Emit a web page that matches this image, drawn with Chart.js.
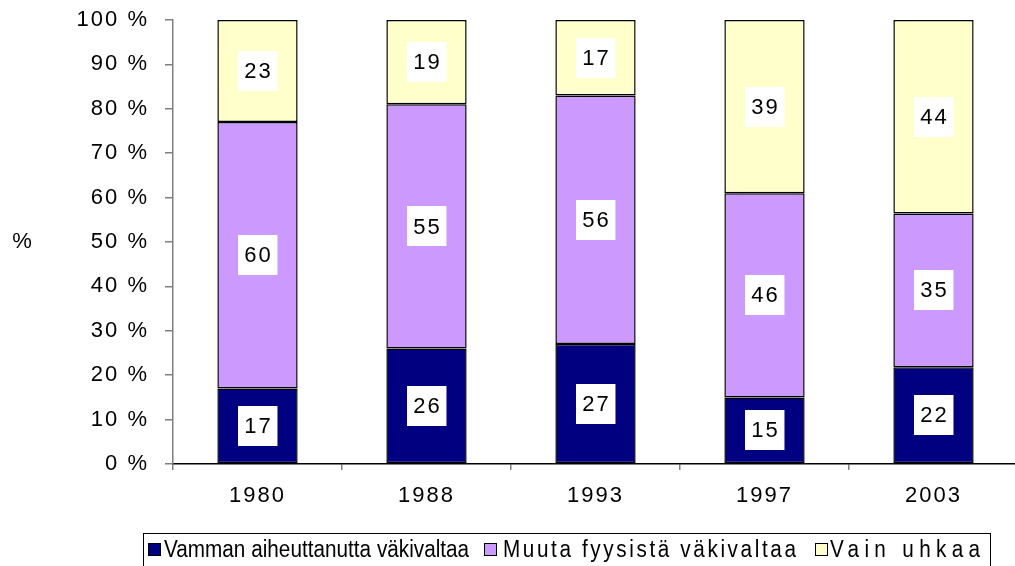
<!DOCTYPE html>
<html>
<head>
<meta charset="utf-8">
<script src="https://cdn.jsdelivr.net/npm/chart.js@4.4.1/dist/chart.umd.min.js"></script>
<style>
  html, body { margin: 0; padding: 0; background: #fff; overflow: hidden; }
  #wrap { position: relative; width: 1020px; height: 566px; }
  #legend {
    position: absolute; left: 143px; top: 533px; width: 848px; height: 40px;
    border: 1.5px solid #000; box-sizing: border-box;
  }
  #legend .box {
    position: absolute; top: 9px; width: 11px; height: 11px; border: 1.5px solid #000;
  }
  #legend .txt {
    position: absolute; top: 2px; white-space: nowrap; color: #000;
    font-family: "Liberation Sans", Arial, sans-serif; font-size: 23px;
    transform: scaleX(0.9); transform-origin: 0 0;
  }
</style>
</head>
<body>
<div id="wrap">
  <canvas id="c" width="1020" height="566"></canvas>
  <div id="legend"></div>
</div>
<script>
const years = ['1980', '1988', '1993', '1997', '2003'];
const vamman = [17, 26, 27, 15, 22];
const muuta = [60, 55, 56, 46, 35];
const uhkaa = [23, 19, 17, 39, 44];
const seriesNames = ['Vamman aiheuttanutta väkivaltaa', 'Muuta fyysistä väkivaltaa', 'Vain uhkaa'];
const colors = ['#000080', '#CC99FF', '#FFFFCC'];
const yTicks = [0, 10, 20, 30, 40, 50, 60, 70, 80, 90, 100];

const FONT = "'Liberation Sans', Arial, sans-serif";
const SP = 2; // letter spacing
const raw = [vamman, muuta, uhkaa];
const totals = years.map((y, i) => vamman[i] + muuta[i] + uhkaa[i]);
const pct = arr => arr.map((v, i) => v / totals[i] * 100);

// spaced-out lettering like the original
const spacing = {
  id: 'spacing',
  beforeUpdate(chart) { chart.ctx.letterSpacing = SP + 'px'; },
  beforeLayout(chart) { chart.ctx.letterSpacing = SP + 'px'; },
  beforeDraw(chart) { chart.ctx.letterSpacing = SP + 'px'; }
};

// white boxes with values
const valueLabels = {
  id: 'valueLabels',
  afterDatasetsDraw(chart) {
    const ctx = chart.ctx;
    ctx.save();
    ctx.font = '22px ' + FONT;
    ctx.letterSpacing = SP + 'px';
    ctx.textAlign = 'center';
    ctx.textBaseline = 'middle';
    chart.data.datasets.forEach((ds, di) => {
      chart.getDatasetMeta(di).data.forEach((bar, i) => {
        const txt = String(raw[di][i]);
        const cy = (bar.y + bar.base) / 2;
        const tw = ctx.measureText(txt).width - SP;
        const w = tw + 13, h = 40;
        ctx.fillStyle = '#fff';
        ctx.fillRect(Math.round(bar.x - w / 2), Math.round(cy - h / 2), w, h);
        ctx.fillStyle = '#000';
        ctx.fillText(txt, bar.x + SP / 2, cy + 1);
      });
    });
    ctx.restore();
  }
};

// "%" on the left
const yTitle = {
  id: 'yTitle',
  afterDraw(chart) {
    const ctx = chart.ctx;
    const a = chart.chartArea;
    ctx.save();
    ctx.font = '22px ' + FONT;
    ctx.textAlign = 'center';
    ctx.textBaseline = 'middle';
    ctx.fillStyle = '#000';
    ctx.fillText('%', 23, (a.top + a.bottom) / 2);
    ctx.restore();
  }
};

new Chart(document.getElementById('c'), {
  type: 'bar',
  data: {
    labels: years,
    datasets: [
      { label: seriesNames[0], data: pct(vamman), backgroundColor: colors[0] },
      { label: seriesNames[1], data: pct(muuta), backgroundColor: colors[1] },
      { label: seriesNames[2], data: pct(uhkaa), backgroundColor: colors[2] }
    ].map(d => Object.assign(d, {
      borderColor: '#000', borderWidth: 1.5, borderSkipped: false,
      barPercentage: 0.475, categoryPercentage: 1
    }))
  },
  options: {
    responsive: false,
    animation: false,
    layout: { padding: { top: 20, right: 2, left: 0, bottom: 0 } },
    plugins: { legend: { display: false }, tooltip: { enabled: false } },
    scales: {
      x: {
        stacked: true,
        grid: { display: true, drawOnChartArea: false, drawTicks: true, tickLength: 6, color: '#808080', lineWidth: 1.5, offset: true },
        border: { color: '#000', width: 1.5 },
        ticks: { color: '#000', font: { family: FONT, size: 22 }, padding: 13, maxRotation: 0 },
        afterFit(scale) { scale.height = 102; scale.paddingLeft = 0; scale.paddingRight = 0; }
      },
      y: {
        stacked: true,
        min: 0, max: 100,
        afterBuildTicks(scale) { scale.ticks = yTicks.map(v => ({ value: v })); },
        grid: { display: true, drawOnChartArea: false, drawTicks: true, tickLength: 8, color: '#808080', lineWidth: 1.5 },
        border: { color: '#808080', width: 1.5 },
        ticks: { color: '#000', font: { family: FONT, size: 22 }, padding: 16, callback: v => v + ' %' },
        afterFit(scale) { scale.width = 173; scale.paddingTop = 20; scale.paddingBottom = 0; }
      }
    }
  },
  plugins: [spacing, valueLabels, yTitle]
});

// legend with border; each entry is spread to the width it has in the original
const legendBoxX = [4, 340, 671];
const legendTextX = [20, 359, 686];
const legendTextW = [305, 293, 150];
const legend = document.getElementById('legend');
const mctx = document.createElement('canvas').getContext('2d');
mctx.font = '23px ' + FONT;
seriesNames.forEach((name, i) => {
  const box = document.createElement('div');
  box.className = 'box';
  box.style.left = legendBoxX[i] + 'px';
  box.style.background = colors[i];
  const txt = document.createElement('div');
  txt.className = 'txt';
  txt.style.left = legendTextX[i] + 'px';
  const natural = mctx.measureText(name).width;
  const ls = (legendTextW[i] / 0.9 - natural) / (name.length - 1);
  txt.style.letterSpacing = ls.toFixed(2) + 'px';
  txt.textContent = name;
  legend.appendChild(box);
  legend.appendChild(txt);
});
</script>
</body>
</html>
